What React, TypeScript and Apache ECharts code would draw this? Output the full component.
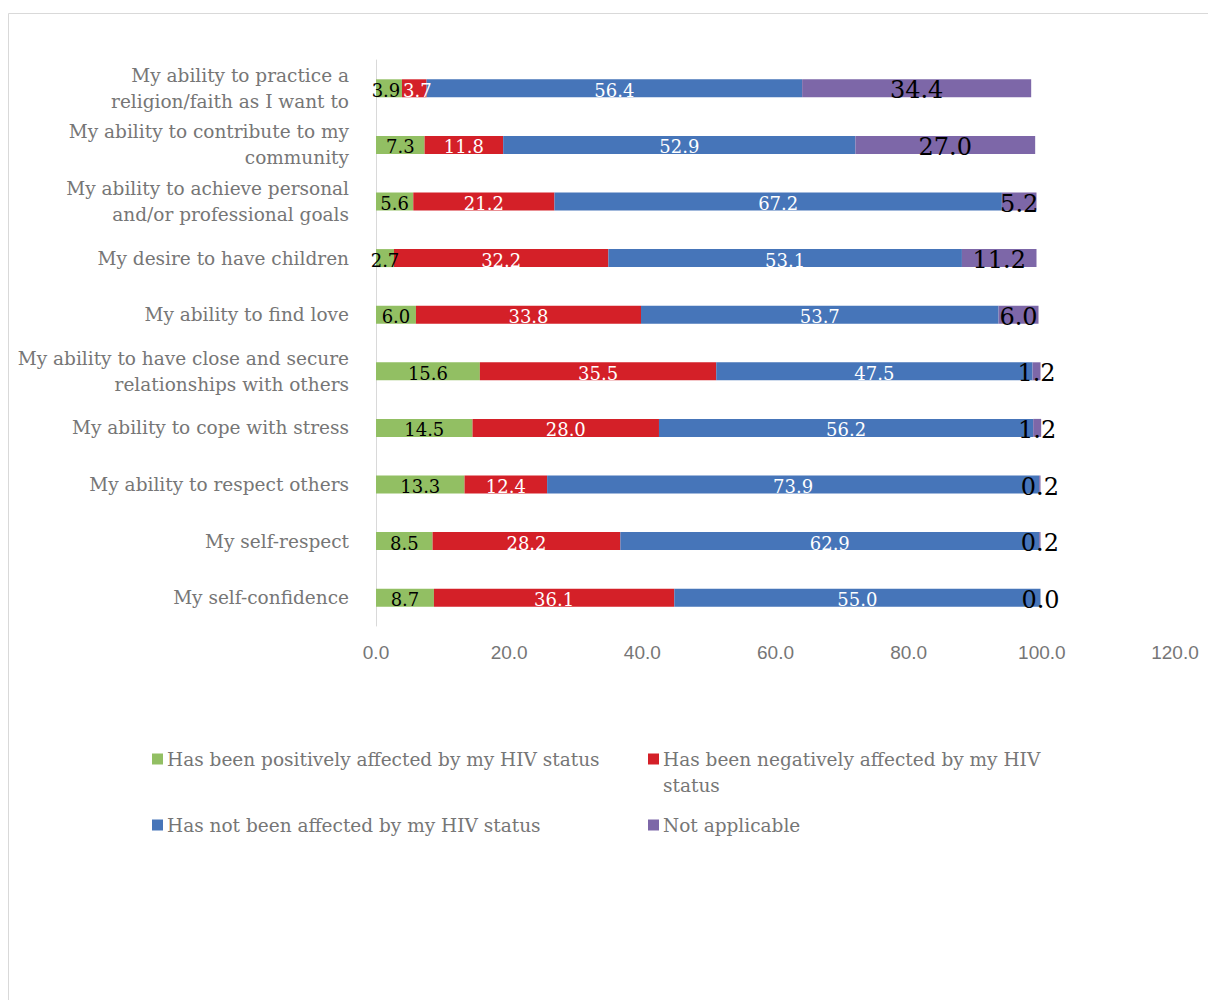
import React, { useEffect, useRef } from "react";
import * as echarts from "echarts";

const categories = [
  "My self-confidence",
  "My self-respect",
  "My ability to respect others",
  "My ability to cope with stress",
  "My ability to have close and secure\nrelationships with others",
  "My ability to find love",
  "My desire to have children",
  "My ability to achieve personal\nand/or professional goals",
  "My ability to contribute to my\ncommunity",
  "My ability to practice a\nreligion/faith as I want to",
];

const positive = [8.7, 8.5, 13.3, 14.5, 15.6, 6.0, 2.7, 5.6, 7.3, 3.9];
const negative = [36.1, 28.2, 12.4, 28.0, 35.5, 33.8, 32.2, 21.2, 11.8, 3.7];
const notAffected = [55.0, 62.9, 73.9, 56.2, 47.5, 53.7, 53.1, 67.2, 52.9, 56.4];
const notApplicable = [0.0, 0.2, 0.2, 1.2, 1.2, 6.0, 11.2, 5.2, 27.0, 34.4];

const seriesNames = [
  "Has been positively affected by my HIV status",
  "Has been negatively affected by my HIV status",
  "Has not been affected by my HIV status",
  "Not applicable",
];

const xTicks = { min: 0, max: 120, interval: 20 };

const FONT = "'DejaVu Serif', serif";
const LABEL_FONT = "'DejaVu Serif', serif";
const GRAY = "#767676";

export default function App() {
  const ref = useRef<HTMLDivElement>(null);
  useEffect(() => {
    document.body.style.margin = "0";
    const chart = echarts.init(ref.current!, null, { renderer: "svg" });
    const labelBase = {
      show: true,
      position: "inside",
      fontFamily: LABEL_FONT,
      fontSize: 18,
      offset: [0, 2],
      formatter: (p: any) => Number(p.value).toFixed(1),
    };
    const colors = ["#92bf63", "#d42028", "#4675b9", "#7d67a8"];
    const datas = [positive, negative, notAffected, notApplicable];
    const labelColors = ["#000000", "#ffffff", "#ffffff", "#000000"];
    const labelSizes = [18, 18, 18, 24];
    // nudge the two crowded labels of the top bar apart (label styling only)
    const nudge: Record<number, number> = { 0: -3, 1: 3 };
    const series = datas.map((d, i) => ({
      name: seriesNames[i],
      type: "bar",
      stack: "total",
      data: d.map((v, j) =>
        j === d.length - 1 && nudge[i] !== undefined
          ? { value: v, label: { offset: [nudge[i], 2] } }
          : v
      ),
      barWidth: 18,
      itemStyle: { color: colors[i] },
      label: { ...labelBase, color: labelColors[i], fontSize: labelSizes[i] },
      emphasis: { disabled: true },
    }));
    const legendCommon = {
      orient: "horizontal",
      padding: 0,
      itemWidth: 11,
      itemHeight: 11,
      icon: "rect",
      itemGap: 0,
      selectedMode: false,
      textStyle: { color: GRAY, fontFamily: FONT, fontSize: 18.5, lineHeight: 26, padding: [0, 0, 0, -1] },
    };
    chart.setOption({
      animation: false,
      color: colors,
      grid: { left: 376, right: 33, top: 60, bottom: 374, containLabel: false },
      xAxis: {
        type: "value",
        min: xTicks.min,
        max: xTicks.max,
        interval: xTicks.interval,
        axisLine: { show: false },
        axisTick: { show: false },
        splitLine: { show: false },
        axisLabel: {
          color: GRAY,
          fontFamily: "'Liberation Sans Narrow', 'Liberation Sans', sans-serif",
          fontSize: 19,
          margin: 17,
          formatter: (v: number) => v.toFixed(1),
        },
      },
      yAxis: {
        type: "category",
        data: categories,
        axisLine: { show: true, lineStyle: { color: "#d9d9d9", width: 1 } },
        axisTick: { show: false },
        axisLabel: {
          color: GRAY,
          fontFamily: FONT,
          fontSize: 18.5,
          lineHeight: 26,
          margin: 27,
          align: "right",
        },
      },
      legend: [
        { ...legendCommon, data: [seriesNames[0]], left: 152, top: 746 },
        {
          ...legendCommon,
          data: [seriesNames[1]],
          left: 648,
          top: 720,
          formatter: () => "\nHas been negatively affected by my HIV\nstatus",
        },
        { ...legendCommon, data: [seriesNames[2]], left: 152, top: 812 },
        { ...legendCommon, data: [seriesNames[3]], left: 648, top: 812 },
      ],
      graphic: [
        {
          type: "rect",
          shape: { x: 8.5, y: 13.5, width: 1400, height: 1200 },
          style: { fill: "none", stroke: "#d9d9d9", lineWidth: 1 },
          silent: true,
          z: -10,
        },
      ],
      series,
    });
    return () => chart.dispose();
  }, []);
  return <div ref={ref} style={{ width: 1208, height: 1000 }} />;
}
